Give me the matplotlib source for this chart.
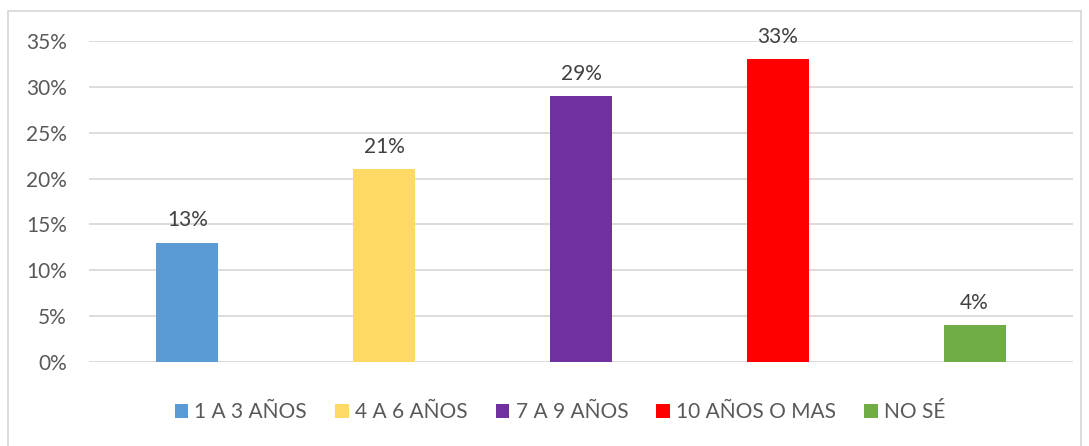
import matplotlib.pyplot as plt
from matplotlib.patches import Rectangle, Patch
from matplotlib.ticker import PercentFormatter

categories = ["1 A 3 AÑOS", "4 A 6 AÑOS", "7 A 9 AÑOS", "10 AÑOS O MAS", "NO SÉ"]
values = [0.13, 0.21, 0.29, 0.33, 0.04]
colors = ["#5B9BD5", "#FFD966", "#7030A0", "#FF0000", "#70AD47"]

plt.rcParams['font.family'] = ['Lato', 'DejaVu Sans']

fig = plt.figure(figsize=(10.89, 4.46), dpi=100)
ax = fig.add_axes([89 / 1089, 84 / 446, 984 / 1089, 321 / 446])

x = list(range(len(categories)))
bars = ax.bar(x, values, width=0.315, color=colors, zorder=3)

for b, v in zip(bars, values):
    ax.annotate(f"{round(v * 100)}%", (b.get_x() + b.get_width() / 2, v),
                xytext=(0, 9), textcoords="offset points",
                ha="center", va="bottom", fontsize=15, color="#404040")

ax.set_xlim(-0.5, len(categories) - 0.5)
ax.set_ylim(0, 0.35)
ax.set_yticks([i * 0.05 for i in range(8)])
ax.yaxis.set_major_formatter(PercentFormatter(1.0, decimals=0))
ax.set_xticks([])
ax.tick_params(axis="y", length=0, pad=16, labelsize=15, labelcolor="#595959")
ax.grid(axis="y", color="#D9D9D9", linewidth=1.3, zorder=0)
for s in ax.spines.values():
    s.set_visible(False)

handles = [Patch(facecolor=c, label=l) for c, l in zip(colors, categories)]
fig.legend(handles=handles, loc="center", bbox_to_anchor=(560 / 1089, 1 - 412 / 446),
           ncol=5, frameon=False, fontsize=15, labelcolor="#595959",
           handlelength=0.65, handleheight=0.65, handletextpad=0.3, columnspacing=1.35)

fig.add_artist(Rectangle((8 / 1089, -0.05), 1073 / 1089, 1 - 11 / 446 + 0.05,
                         transform=fig.transFigure, fill=False,
                         edgecolor="#D9D9D9", linewidth=1.3))

fig.savefig("out.png", dpi=100)
